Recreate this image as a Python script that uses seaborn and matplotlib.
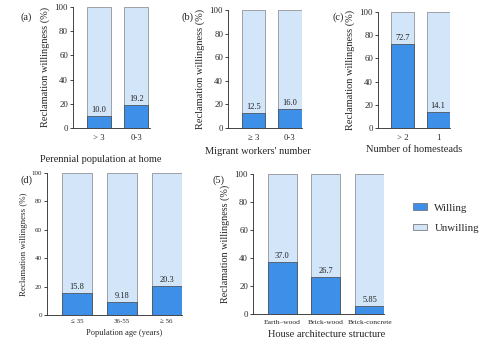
import matplotlib
matplotlib.use("Agg")
import matplotlib.pyplot as plt
import seaborn as sns
from matplotlib.patches import Patch

# data
a_cats = ["> 3", "0-3"]
a_willing = [10.0, 19.2]
b_cats = ["\u2265 3", "0-3"]
b_willing = [12.5, 16.0]
c_cats = ["> 2", "1"]
c_willing = [72.7, 14.1]
d_cats = ["\u2264 35", "36-55", "\u2265 56"]
d_willing = [15.8, 9.18, 20.3]
e_cats = ["Earth\u2013wood", "Brick-wood", "Brick-concrete"]
e_willing = [37.0, 26.7, 5.85]

a_labels = ["10.0", "19.2"]
b_labels = ["12.5", "16.0"]
c_labels = ["72.7", "14.1"]
d_labels = ["15.8", "9.18", "20.3"]
e_labels = ["37.0", "26.7", "5.85"]

WILL = "#3d8fe8"
UNWILL = "#d3e5f8"

sns.set_style("ticks")
plt.rcParams["font.family"] = ["Liberation Serif", "DejaVu Serif"]

fig = plt.figure(figsize=(4.8, 3.44), dpi=100)

# one dict per panel: data + where it sits on the page
panels = [
    dict(cats=a_cats, willing=a_willing, labels=a_labels, rect=[0.152, 0.628, 0.160, 0.352],
         xlabel="Perennial population at home", xlab_pos=(0.36, -0.225), xlsize=7.5,
         tag="(a)", tagpos=(0.042, 0.95), ylsize=7.5, ticksize=6.3, xticksize=6.3, xpad=4,
         w=0.65, xlim=(-0.70, 1.36)),
    dict(cats=b_cats, willing=b_willing, labels=b_labels, rect=[0.475, 0.628, 0.154, 0.343],
         xlabel="Migrant workers' number", xlab_pos=(0.41, -0.165), xlsize=7.5,
         tag="(b)", tagpos=(0.378, 0.95), ylsize=7.5, ticksize=6.3, xticksize=6.3, xpad=4,
         w=0.64, xlim=(-0.70, 1.33)),
    dict(cats=c_cats, willing=c_willing, labels=c_labels, rect=[0.7875, 0.628, 0.150, 0.337],
         xlabel="Number of homesteads", xlab_pos=(0.5, -0.145), xlsize=7.5,
         tag="(c)", tagpos=(0.692, 0.95), ylsize=7.5, ticksize=6.3, xticksize=6.3, xpad=4,
         w=0.64, xlim=(-0.68, 1.33)),
    dict(cats=d_cats, willing=d_willing, labels=d_labels, rect=[0.098, 0.084, 0.281, 0.413],
         xlabel="Population age (years)", xlab_pos=(0.57, -0.10), xlsize=6.0,
         tag="(d)", tagpos=(0.042, 0.477), ylsize=6.4, ticksize=5.0, xticksize=5.0, xpad=2.5,
         w=0.67, xlim=(-0.67, 2.34)),
    dict(cats=e_cats, willing=e_willing, labels=e_labels, rect=[0.527, 0.087, 0.273, 0.407],
         xlabel="House architecture structure", xlab_pos=(0.565, -0.115), xlsize=7.5,
         tag="(5)", tagpos=(0.442, 0.477), ylsize=7.3, ticksize=6.3, xticksize=5.4, xpad=4,
         w=0.66, xlim=(-0.67, 2.33)),
]

for p in panels:
    ax = fig.add_axes(p["rect"])
    n = len(p["cats"])
    sns.barplot(x=p["cats"], y=[100] * n, color=UNWILL, saturation=1, width=p["w"],
                edgecolor="#666666", linewidth=0.4, ax=ax)
    sns.barplot(x=p["cats"], y=p["willing"], color=WILL, saturation=1, width=p["w"],
                edgecolor="#444444", linewidth=0.5, ax=ax)
    for i, (v, t) in enumerate(zip(p["willing"], p["labels"])):
        ax.text(i, v + 1.5, t, ha="center", va="bottom", fontsize=6, color="#222222")
    ax.set_ylim(0, 100)
    ax.set_xlim(*p["xlim"])
    ax.set_yticks([0, 20, 40, 60, 80, 100])
    ax.tick_params(axis="y", labelsize=p["ticksize"], length=2.5, width=0.6, pad=1)
    ax.tick_params(axis="x", labelsize=p["xticksize"], length=0, pad=p["xpad"])
    ax.set_ylabel("Reclamation willingness (%)", fontsize=p["ylsize"], labelpad=3)
    ax.set_xlabel(p["xlabel"], fontsize=p["xlsize"])
    ax.xaxis.set_label_coords(*p["xlab_pos"])
    sns.despine(ax=ax, top=True, right=True)
    for s in ["left", "bottom"]:
        ax.spines[s].set_linewidth(0.6)
    fig.text(p["tagpos"][0], p["tagpos"][1], p["tag"], fontsize=7.5, ha="left", va="center")

handles = [Patch(facecolor=WILL, edgecolor="#666666", linewidth=0.5, label="Willing"),
           Patch(facecolor=UNWILL, edgecolor="#666666", linewidth=0.5, label="Unwilling")]
fig.legend(handles=handles, loc="center left", bbox_to_anchor=(0.86, 0.366),
           frameon=False, fontsize=7.8, handlelength=1.3, handleheight=0.6,
           labelspacing=1.0, handletextpad=0.7, borderpad=0, borderaxespad=0)

fig.savefig("out.png", dpi=100)
